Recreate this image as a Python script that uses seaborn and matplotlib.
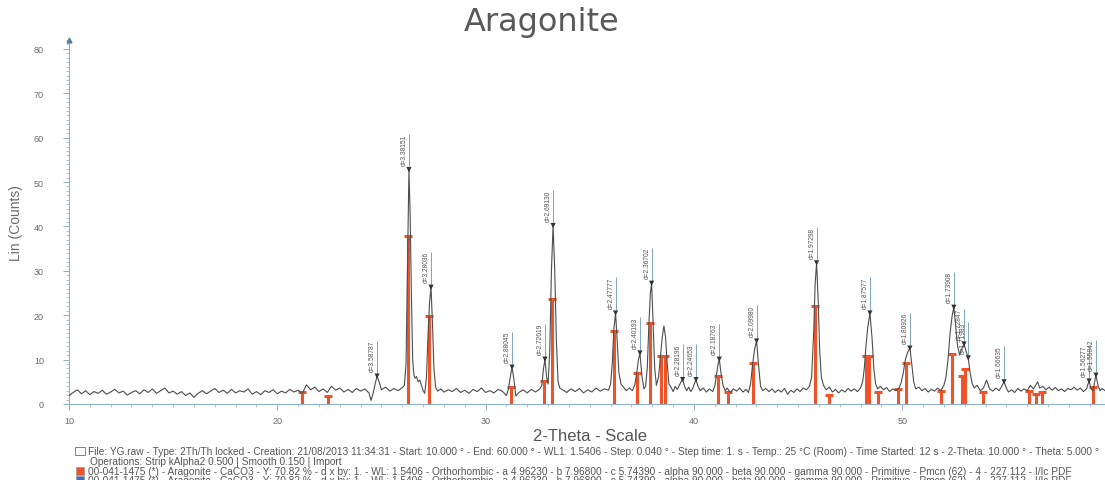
import matplotlib
matplotlib.use("Agg")
import matplotlib.pyplot as plt
import seaborn as sns
import pandas as pd
from matplotlib.ticker import MultipleLocator

# Measured scan (2-Theta in degrees, Lin counts)
scan_2theta = [
    10.0, 10.2, 10.4, 10.6, 10.8, 11.0, 11.2, 11.4, 11.6, 11.8, 12.0, 12.2, 12.4, 12.6, 12.8,
    13.0, 13.2, 13.4, 13.6, 13.8, 14.0, 14.2, 14.4, 14.6, 14.8, 15.0, 15.2, 15.4, 15.6, 15.8,
    16.0, 16.2, 16.4, 16.6, 16.8, 17.0, 17.2, 17.4, 17.6, 17.8, 18.0, 18.2, 18.4, 18.6, 18.8,
    19.0, 19.2, 19.4, 19.6, 19.8, 20.0, 20.2, 20.4, 20.6, 20.8, 21.0, 21.2, 21.4, 21.6, 21.8,
    22.0, 22.2, 22.4, 22.6, 22.8, 23.0, 23.2, 23.4, 23.6, 23.8, 24.0, 24.2, 24.4, 24.5, 24.6,
    24.7, 24.79, 24.9, 25.0, 25.2, 25.4, 25.6, 25.8, 26.0, 26.1, 26.18, 26.24, 26.32, 26.38, 26.44,
    26.50, 26.56, 26.62, 26.68, 26.76, 26.84, 26.92, 27.00, 27.08, 27.16, 27.24, 27.31, 27.38, 27.45, 27.52,
    27.60, 27.70, 27.85, 28.0, 28.2, 28.4, 28.6, 28.8, 29.0, 29.2, 29.4, 29.6, 29.8, 30.0, 30.2,
    30.4, 30.6, 30.8, 31.0, 31.1, 31.2, 31.27, 31.36, 31.45, 31.6, 31.8, 32.0, 32.2, 32.4, 32.6,
    32.7, 32.78, 32.85, 32.93, 33.0, 33.08, 33.16, 33.24, 33.32, 33.40, 33.48, 33.56, 33.7, 33.9, 34.1,
    34.3, 34.5, 34.7, 34.9, 35.1, 35.3, 35.5, 35.7, 35.9, 36.0, 36.08, 36.16, 36.24, 36.32, 36.40,
    36.50, 36.62, 36.75, 36.9, 37.05, 37.17, 37.27, 37.34, 37.41, 37.50, 37.60, 37.68, 37.76, 37.84, 37.91,
    37.97, 38.04, 38.12, 38.2, 38.3, 38.40, 38.48, 38.56, 38.64, 38.72, 38.80, 38.9, 39.0, 39.1, 39.2,
    39.3, 39.38, 39.46, 39.55, 39.65, 39.75, 39.85, 39.95, 40.03, 40.10, 40.18, 40.3, 40.45, 40.6, 40.75,
    40.9, 41.0, 41.1, 41.17, 41.22, 41.30, 41.40, 41.5, 41.6, 41.75, 41.9, 42.05, 42.2, 42.35, 42.5,
    42.62, 42.72, 42.82, 42.92, 43.01, 43.10, 43.20, 43.30, 43.45, 43.6, 43.75, 43.9, 44.05, 44.2, 44.35,
    44.5, 44.65, 44.8, 44.95, 45.1, 45.25, 45.4, 45.55, 45.65, 45.75, 45.82, 45.89, 45.96, 46.04, 46.12,
    46.22, 46.35, 46.5, 46.65, 46.8, 46.95, 47.1, 47.25, 47.4, 47.55, 47.7, 47.85, 48.0, 48.1, 48.18,
    48.26, 48.34, 48.45, 48.55, 48.64, 48.72, 48.82, 48.95, 49.1, 49.25, 49.4, 49.55, 49.7, 49.85, 49.95,
    50.05, 50.15, 50.25, 50.37, 50.46, 50.55, 50.65, 50.8, 50.95, 51.1, 51.25, 51.4, 51.55, 51.7, 51.85,
    52.0, 52.1, 52.2, 52.30, 52.40, 52.48, 52.56, 52.66, 52.76, 52.86, 52.97, 53.06, 53.17, 53.26, 53.36,
    53.46, 53.6, 53.75, 53.9, 54.05, 54.2, 54.35, 54.5, 54.65, 54.78, 54.89, 55.0, 55.1, 55.25, 55.4,
    55.55, 55.7, 55.85, 56.0, 56.15, 56.3, 56.5, 56.6, 56.75, 56.9, 57.05, 57.2, 57.35, 57.5, 57.65,
    57.8, 57.95, 58.1, 58.25, 58.4, 58.55, 58.7, 58.85, 58.97, 59.06, 59.15, 59.22, 59.30, 59.40, 59.5,
    59.6, 59.73,
]
scan_counts = [
    1.9, 2.6, 3.2, 2.3, 3.0, 2.1, 2.8, 2.4, 3.1, 2.2, 2.7, 3.3, 2.5, 2.9, 2.0,
    2.6, 3.0, 2.3, 3.2, 2.6, 3.4, 2.4, 3.0, 3.6, 2.5, 2.9, 2.2, 2.8, 1.9, 2.5,
    1.5, 2.4, 3.0, 2.3, 2.9, 3.5, 2.6, 3.1, 2.4, 3.3, 2.5, 3.0, 2.7, 3.4, 2.2,
    2.8, 2.1, 3.0, 2.6, 3.2, 2.3, 2.9, 2.5, 3.3, 2.7, 3.1, 2.4, 4.3, 3.2, 3.8,
    2.8, 3.4, 2.6, 4.0, 3.1, 3.6, 2.7, 3.3, 2.6, 3.5, 2.9, 3.4, 2.5, 0.8, 2.4,
    4.6, 6.3, 4.8, 3.2, 3.8, 2.9, 3.5, 3.0, 3.7, 4.2, 9.0, 28.0, 52.8, 42.0, 24.0,
    10.0, 6.4, 5.8, 6.2, 5.0, 5.4, 4.2, 3.0, 2.4, 6.0, 16.0, 23.0, 26.3, 18.0, 8.0,
    3.8, 2.9, 3.4, 2.7, 3.2, 2.8, 3.5, 2.6, 3.1, 2.4, 3.3, 2.8, 3.6, 2.6, 3.0,
    2.5, 3.3, 2.9, 1.9, 3.5, 6.5, 8.3, 5.5, 1.8, 2.6, 3.2, 2.5, 3.3, 2.7, 3.4,
    4.2, 8.0, 10.1, 6.0, 4.5, 12.0, 30.0, 40.2, 30.0, 14.0, 5.0, 3.6, 3.2, 2.6, 3.4,
    2.8, 3.5, 2.5, 3.2, 2.7, 3.6, 2.9, 3.4, 3.1, 4.5, 9.0, 17.0, 20.5, 14.0, 7.0,
    4.5, 3.8, 3.0, 3.6, 3.0, 4.4, 7.5, 10.0, 11.5, 6.5, 3.4, 4.0, 8.0, 18.0, 25.0,
    27.2, 18.0, 8.0, 4.2, 6.0, 11.0, 15.0, 17.6, 15.0, 9.0, 4.5, 3.8, 2.8, 4.0, 3.3,
    4.2, 5.0, 5.5, 4.0, 3.0, 3.8, 2.8, 3.6, 4.6, 5.5, 4.2, 3.0, 3.6, 2.7, 3.4,
    2.8, 4.0, 7.0, 9.2, 10.1, 7.0, 4.2, 3.0, 3.6, 2.6, 3.4, 2.9, 3.6, 2.7, 3.3,
    2.6, 4.5, 9.0, 12.5, 14.2, 9.0, 4.0, 3.0, 3.5, 2.8, 3.4, 2.6, 3.2, 2.7, 3.5,
    2.2, 3.1, 2.6, 3.4, 2.8, 3.6, 3.2, 4.0, 6.0, 16.0, 27.0, 31.8, 24.0, 12.0, 6.0,
    4.2, 3.2, 3.8, 2.7, 3.3, 2.5, 3.2, 2.7, 3.5, 2.9, 3.4, 2.8, 3.6, 5.0, 8.0,
    13.0, 17.0, 20.5, 15.0, 8.0, 4.6, 3.4, 4.0, 3.2, 3.7, 2.8, 3.4, 3.0, 3.6, 4.8,
    7.0, 10.0, 11.5, 12.6, 9.0, 5.0, 3.4, 3.8, 3.0, 3.5, 2.7, 3.3, 2.9, 3.6, 3.0,
    4.2, 6.0, 10.0, 16.0, 20.0, 21.8, 18.0, 13.0, 11.0, 12.5, 13.5, 12.0, 10.4, 7.0, 4.6,
    3.6, 4.2, 3.0, 3.6, 5.4, 3.4, 2.9, 3.6, 3.0, 4.0, 5.0, 3.6, 2.7, 3.2, 2.6,
    3.5, 2.9, 3.4, 3.0, 4.2, 3.4, 5.0, 3.6, 4.0, 3.2, 3.8, 3.1, 3.7, 3.0, 3.4,
    2.8, 3.5, 3.2, 3.8, 3.1, 3.6, 2.8, 3.4, 5.2, 3.5, 3.0, 4.5, 6.5, 4.2, 3.0,
    3.5, 3.0,
]

# Peaks found by the search, with their d-spacings
peak_2theta = [24.79, 26.32, 27.38, 31.27, 32.85, 33.24, 36.24, 37.41, 37.97, 39.46, 40.10,
               41.22, 43.01, 45.89, 48.45, 50.37, 52.48, 52.97, 53.17, 54.89, 58.97, 59.30]
peak_counts = [6.3, 52.8, 26.3, 8.3, 10.1, 40.2, 20.5, 11.5, 27.2, 5.5, 5.5,
               10.1, 14.2, 31.8, 20.5, 12.6, 21.8, 13.5, 10.4, 5.0, 5.2, 6.5]
peak_labels = ["d=3.58787", "d=3.38151", "d=3.28036", "d=2.88045", "d=2.72619", "d=2.69130",
               "d=2.47777", "d=2.40193", "d=2.36702", "d=2.28196", "d=2.24653", "d=2.18763",
               "d=2.09980", "d=1.97298", "d=1.87577", "d=1.80926", "d=1.73908", "d=1.72847",
               "d=1.71983", "d=1.66635", "d=1.56277", "d=1.55842"]

# Reference pattern 00-041-1475 (Aragonite) stick lines
stick_2theta = [21.17, 22.42, 26.28, 27.30, 31.20, 32.80, 33.20, 36.16, 37.27, 37.89, 38.40,
                38.60, 41.16, 41.62, 42.84, 45.81, 46.49, 48.26, 48.39, 48.82, 49.80, 50.18,
                51.88, 52.37, 52.85, 53.00, 53.88, 56.09, 56.42, 56.71, 59.16]
stick_counts = [2.7, 1.9, 37.8, 19.8, 3.9, 5.2, 23.6, 16.5, 7.0, 18.2, 10.9,
                10.9, 6.3, 2.7, 9.2, 22.1, 2.0, 10.9, 10.9, 2.7, 3.4, 9.2,
                2.9, 11.3, 6.4, 7.9, 2.7, 3.0, 2.2, 2.8, 3.8]

y_ticks = [0, 10, 20, 30, 40, 50, 60, 70, 80]
x_ticks = [10, 20, 30, 40, 50]

info_lines = [
    "File: YG.raw - Type: 2Th/Th locked - Creation: 21/08/2013 11:34:31 - Start: 10.000 \u00b0 - End: 60.000 \u00b0 - WL1: 1.5406 - Step: 0.040 \u00b0 - Step time: 1. s - Temp.: 25 \u00b0C (Room) - Time Started: 12 s - 2-Theta: 10.000 \u00b0 - Theta: 5.000 \u00b0",
    "Operations: Strip kAlpha2 0.500 | Smooth 0.150 | Import",
    "00-041-1475 (*) - Aragonite - CaCO3 - Y: 70.82 % - d x by: 1. - WL: 1.5406 - Orthorhombic - a 4.96230 - b 7.96800 - c 5.74390 - alpha 90.000 - beta 90.000 - gamma 90.000 - Primitive - Pmcn (62) - 4 - 227.112 - I/Ic PDF",
    "00-041-1475 (*) - Aragonite - CaCO3 - Y: 70.82 % - d x by: 1. - WL: 1.5406 - Orthorhombic - a 4.96230 - b 7.96800 - c 5.74390 - alpha 90.000 - beta 90.000 - gamma 90.000 - Primitive - Pmcn (62) - 4 - 227.112 - I/Ic PDF",
]

scan = pd.DataFrame({"two_theta": scan_2theta, "counts": scan_counts})
peaks = pd.DataFrame({"two_theta": peak_2theta, "counts": peak_counts, "label": peak_labels})
sticks = pd.DataFrame({"two_theta": stick_2theta, "counts": stick_counts})

sns.set_theme(style="white")
plt.rcParams["font.family"] = ["Liberation Sans", "DejaVu Sans"]

TEXT = "#6b6b6b"
AXIS = "#8fb0c8"
RED = "#ef5329"
LEADER = "#7fa7b8"

W, H = 1105, 481
fig = plt.figure(figsize=(W / 100, H / 100), dpi=100)
ax = fig.add_axes([69 / W, 76 / H, (W - 69) / W, 364 / H])

# stick pattern
ax.vlines(sticks["two_theta"], 0, sticks["counts"], color=RED, lw=2.2, zorder=2)
ax.plot(sticks["two_theta"], sticks["counts"], ls="none", marker="_", ms=6, mew=2.2,
        color=RED, zorder=2)

# measured scan
sns.lineplot(data=scan, x="two_theta", y="counts", ax=ax, color="#4d4d4d", lw=0.8,
             estimator=None, sort=False, zorder=3)

# peak markers with d-spacing labels
sns.scatterplot(data=peaks, x="two_theta", y="counts", ax=ax, marker="v", s=14,
                color="#333333", edgecolor="none", zorder=4)
ax.vlines(peaks["two_theta"], peaks["counts"] + 0.6, peaks["counts"] + 8.0,
          color=LEADER, lw=0.7, zorder=3)
for x, y, lab in zip(peaks["two_theta"], peaks["counts"], peaks["label"]):
    ax.annotate(lab, (x, y), xytext=(-0.8, 3.5), textcoords="offset points",
                rotation=90, ha="right", va="bottom", fontsize=4.8, color="#555555")

ax.set_xlim(10, 10 + (W - 69) / 20.83)
ax.set_ylim(0, 82)
ax.set_xticks(x_ticks)
ax.set_yticks(y_ticks)
ax.xaxis.set_minor_locator(MultipleLocator(1))
ax.yaxis.set_minor_locator(MultipleLocator(1))
ax.tick_params(axis="both", which="major", direction="out", length=4, width=0.7,
               color=AXIS, labelsize=6.5, labelcolor=TEXT)
ax.tick_params(axis="both", which="minor", direction="out", length=2.2, width=0.5, color=AXIS)
ax.tick_params(axis="y", which="major", pad=14)
ax.tick_params(axis="x", which="major", pad=5)
ax.tick_params(axis="both", which="both", bottom=True, left=True)
ax.set_xlabel("")
ax.set_ylabel("Lin (Counts)", fontsize=10, color=TEXT, labelpad=8)
for side in ("top", "right"):
    ax.spines[side].set_visible(False)
for side in ("left", "bottom"):
    ax.spines[side].set_color(AXIS)
    ax.spines[side].set_linewidth(0.8)
ax.plot([10], [82], marker="^", ms=3.5, color="#5c7f99", clip_on=False, zorder=5)

fig.text(542 / W, 1 - 23 / H, "Aragonite", ha="center", va="center", fontsize=23,
         color="#595959", family="DejaVu Sans")
fig.text(590 / W, 1 - 437 / H, "2-Theta - Scale", ha="center", va="center", fontsize=12, color="#555555")

line_y = [452, 462, 472, 481.5]
line_x = [88, 90, 88, 88]
for txt, yy, xx in zip(info_lines, line_y, line_x):
    fig.text(xx / W, 1 - yy / H, txt, ha="left", va="center", fontsize=7.3, color="#555555")

# legend icons in front of the info lines
fig.patches.append(plt.Rectangle((75 / W, 1 - 456 / H), 10 / W, 8 / H, transform=fig.transFigure,
                                 fill=False, ec="#6688aa", lw=0.7))
fig.patches.append(plt.Rectangle((76 / W, 1 - 476 / H), 8 / W, 8 / H, transform=fig.transFigure,
                                 fc=RED, ec="#999999", lw=0.5))
fig.patches.append(plt.Rectangle((76 / W, 1 - 485 / H), 8 / W, 8 / H, transform=fig.transFigure,
                                 fc="#3b6fd1", ec="#999999", lw=0.5))

fig.savefig("out.png", dpi=100)
